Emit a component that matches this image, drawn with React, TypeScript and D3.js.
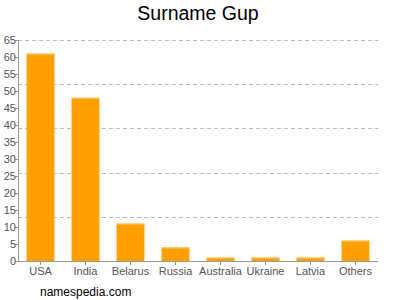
import React from "react";
import * as d3 from "d3";

const categories = ["USA", "India", "Belarus", "Russia", "Australia", "Ukraine", "Latvia", "Others"];
const values = [61, 48, 11, 4, 1, 1, 1, 6];
const yTicks = [0, 5, 10, 15, 20, 25, 30, 35, 40, 45, 50, 55, 60, 65];
const gridValues = [13, 26, 39, 52, 65];

export default function App() {
  const W = 400, H = 300;
  const left = 18, right = 378, top = 40, bottom = 261;
  const x = d3.scaleBand().domain(categories).range([left, right]).paddingInner(0.38).paddingOuter(0.19);
  const y = d3.scaleLinear().domain([0, 65]).range([bottom, top]);
  const font = "Liberation Sans, Arial, sans-serif";
  return (
    <svg width={W} height={H} style={{ position: "absolute", left: 0, top: 0 }} fontFamily={font}>
      <rect width={W} height={H} fill="#fff" />
      <text x={198} y={20} textAnchor="middle" fontSize={19.5} fill="#000">Surname Gup</text>
      {gridValues.map((g) => (
        <line key={g} x1={left} x2={right} y1={Math.round(y(g)) + 0.5} y2={Math.round(y(g)) + 0.5}
          stroke="#bbb" strokeDasharray="4,3" />
      ))}
      {categories.map((c, i) => (
        <g key={c}>
          <rect x={x(c)} y={y(values[i])} width={x.bandwidth()} height={bottom - y(values[i])} fill="#FFA000" />
          <rect x={x(c)} y={y(values[i])} width={x.bandwidth()} height={1} fill="#FFC766" />
          <line x1={x(c)! + x.bandwidth() / 2} x2={x(c)! + x.bandwidth() / 2} y1={bottom} y2={bottom + 4} stroke="#999" />
          <text x={x(c)! + x.bandwidth() / 2} y={275} textAnchor="middle" fontSize={11} fill="#555">{c}</text>
        </g>
      ))}
      {yTicks.map((t) => (
        <g key={t}>
          <line x1={left - 3} x2={left} y1={Math.round(y(t)) + 0.5} y2={Math.round(y(t)) + 0.5} stroke="#999" />
          <text x={left - 2} y={y(t) + 4} textAnchor="end" fontSize={11} fill="#555">{t}</text>
        </g>
      ))}
      <line x1={left + 0.5} x2={left + 0.5} y1={top} y2={bottom} stroke="#999" />
      <line x1={left} x2={right} y1={bottom + 0.5} y2={bottom + 0.5} stroke="#999" />
      <text x={40} y={296} fontSize={12} fill="#000">namespedia.com</text>
    </svg>
  );
}
